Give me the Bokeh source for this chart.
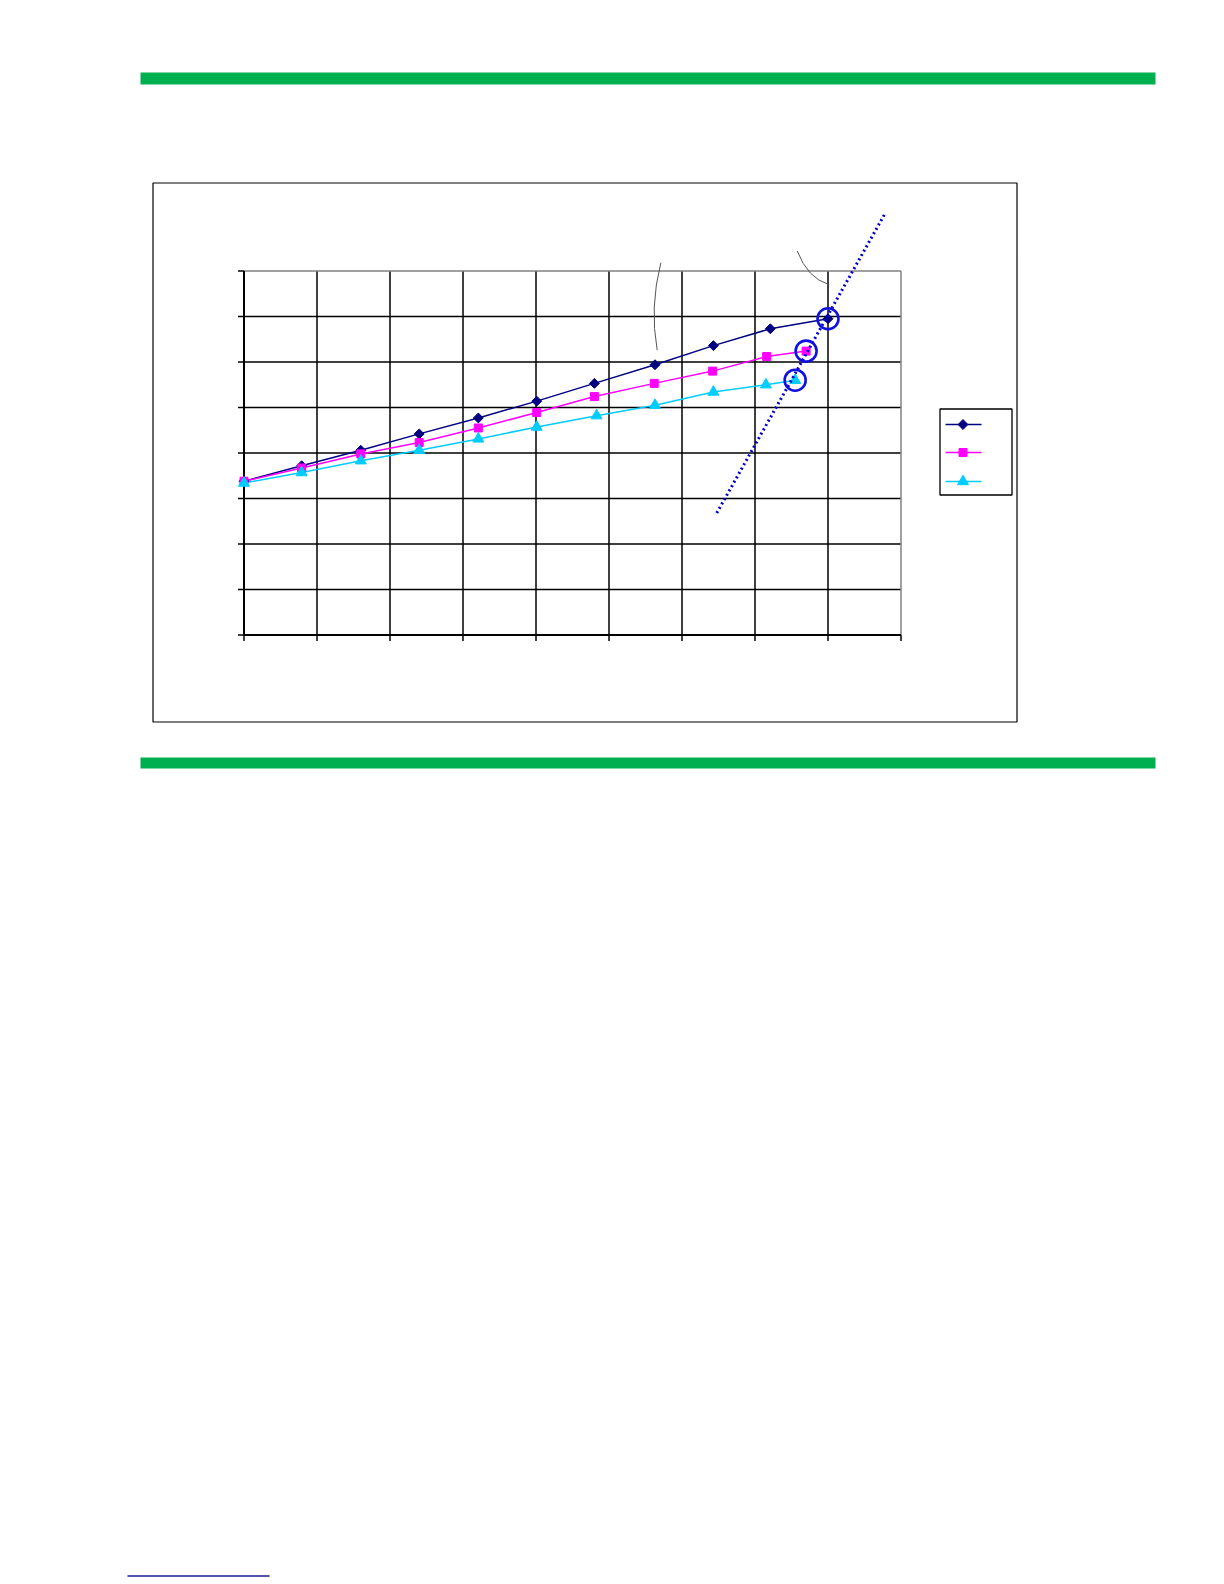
import numpy as np
from bokeh.plotting import figure
from bokeh.models import Range1d
from bokeh.embed import file_html
from bokeh.resources import INLINE

# ---------------- data ----------------
x_grid = [0, 1, 2, 3, 4, 5, 6, 7, 8, 9]
y_grid = [0, 1, 2, 3, 4, 5, 6, 7, 8]

s1_x = [0.0, 0.79, 1.60, 2.40, 3.21, 4.01, 4.80, 5.63, 6.43, 7.21, 8.00]
s1_y = [3.38, 3.72, 4.06, 4.42, 4.77, 5.14, 5.53, 5.94, 6.36, 6.73, 6.95]

s2_x = [0.0, 0.79, 1.60, 2.40, 3.21, 4.01, 4.80, 5.62, 6.42, 7.16, 7.70]
s2_y = [3.38, 3.67, 3.98, 4.23, 4.55, 4.89, 5.24, 5.53, 5.80, 6.12, 6.24]

s3_x = [0.0, 0.79, 1.60, 2.40, 3.21, 4.01, 4.83, 5.63, 6.43, 7.15, 7.55]
s3_y = [3.34, 3.57, 3.83, 4.06, 4.31, 4.57, 4.82, 5.05, 5.34, 5.50, 5.60]

trend_x = [6.476, 8.78]
trend_y = [2.68, 9.26]

# leader lines (quadratic curves): start, control, end
lead1 = [(5.71, 8.18), (5.555, 7.20), (5.66, 6.26)]
lead2 = [(7.579, 8.44), (7.72, 7.84), (8.016, 7.70)]

C1, C2, C3 = "#000080", "#ff00ff", "#00ccff"
CIRC = "#1010e0"

# ---------------- page mapping ----------------
W, H = 1208, 1580
X0, XS = 243.5, 73.0      # page px of x=0, px per unit
Y0, YS = 634.5, 45.5      # page px of y=0, px per unit


def dx(px):
    return (px - X0) / XS


def dy(py):
    return (Y0 - py) / YS


p = figure(width=W, height=H, output_backend="svg", toolbar_location=None,
           x_range=Range1d(dx(0), dx(W)), y_range=Range1d(dy(H), dy(0)),
           x_axis_location=None, y_axis_location=None, min_border=0,
           outline_line_color=None, background_fill_color="white",
           border_fill_color="white")
p.grid.visible = False

# green rules
p.quad(left=dx(140), right=dx(1155), top=dy(72), bottom=dy(84),
       fill_color="#00b050", line_color=None)
p.quad(left=dx(140), right=dx(1155), top=dy(757), bottom=dy(768),
       fill_color="#00b050", line_color=None)

# bottom link underline
p.segment(x0=dx(127), y0=dy(1575.5), x1=dx(269), y1=dy(1575.5),
          line_color="#1a1a9a", line_width=1.3)

# chart area border
p.quad(left=dx(152.5), right=dx(1016.5), top=dy(182.5), bottom=dy(721.5),
       fill_color=None, line_color="black", line_width=1.2)

# plot grid
xmin, xmax = x_grid[0], x_grid[-1]
ymin, ymax = y_grid[0], y_grid[-1]
inner_x = x_grid[1:-1]
inner_y = y_grid[1:-1]
p.segment(x0=inner_x, y0=[ymin] * len(inner_x), x1=inner_x, y1=[ymax] * len(inner_x),
          line_color="black", line_width=1.5)
p.segment(x0=[xmin] * len(inner_y), y0=inner_y, x1=[xmax] * len(inner_y), y1=inner_y,
          line_color="black", line_width=1.5)
# top / right plot-area border (gray)
p.segment(x0=[xmin, xmax], y0=[ymax, ymin], x1=[xmax, xmax], y1=[ymax, ymax],
          line_color="#808080", line_width=1.5)
# axes
p.segment(x0=[xmin, xmin], y0=[ymin, ymin], x1=[xmin, xmax], y1=[ymax, ymin],
          line_color="black", line_width=2)
# ticks
tl = 6.0
p.segment(x0=[xmin] * len(y_grid), y0=y_grid, x1=[xmin - tl / XS] * len(y_grid), y1=y_grid,
          line_color="black", line_width=1.5)
p.segment(x0=x_grid, y0=[ymin] * len(x_grid), x1=x_grid, y1=[ymin - tl / YS] * len(x_grid),
          line_color="black", line_width=1.5)

# series
p.line(s1_x, s1_y, line_color=C1, line_width=1.5)
p.line(s2_x, s2_y, line_color=C2, line_width=1.5)
p.line(s3_x, s3_y, line_color=C3, line_width=1.5)
p.scatter(s1_x, s1_y, marker="square", size=7, angle=np.pi / 4,
          fill_color=C1, line_color=C1)
p.scatter(s2_x, s2_y, marker="square", size=8, fill_color=C2, line_color=C2)
p.scatter(s3_x, s3_y, marker="triangle", size=11, fill_color=C3, line_color=C3)

# dotted trend line
p.line(trend_x, trend_y, line_color="#0000cc", line_width=3, line_dash="2 3")

# circles at end points
p.scatter([s1_x[-1], s2_x[-1], s3_x[-1]], [s1_y[-1], s2_y[-1], s3_y[-1]],
          marker="circle", size=21, fill_color=None, line_color=CIRC, line_width=2.6)

# leader curves
for lead in (lead1, lead2):
    (ax, ay), (cx, cy), (bx, by) = lead
    p.quadratic(x0=[ax], y0=[ay], x1=[bx], y1=[by], cx=[cx], cy=[cy],
                line_color="#555555", line_width=1)

# legend (no text)
p.quad(left=dx(939.5), right=dx(1011.5), top=dy(408.5), bottom=dy(494.5),
       fill_color="white", line_color="black", line_width=1.3)
leg_y = [dy(424), dy(452), dy(481)]
leg_cols = [C1, C2, C3]
p.segment(x0=[dx(945)] * 3, y0=leg_y, x1=[dx(981)] * 3, y1=leg_y,
          line_color=leg_cols, line_width=1.5)
p.scatter([dx(962.5)], [leg_y[0]], marker="square", size=7, angle=np.pi / 4,
          fill_color=C1, line_color=C1)
p.scatter([dx(962.5)], [leg_y[1]], marker="square", size=8, fill_color=C2, line_color=C2)
p.scatter([dx(962.5)], [leg_y[2]], marker="triangle", size=11, fill_color=C3, line_color=C3)

open("out.html", "w").write(file_html(p, INLINE))
